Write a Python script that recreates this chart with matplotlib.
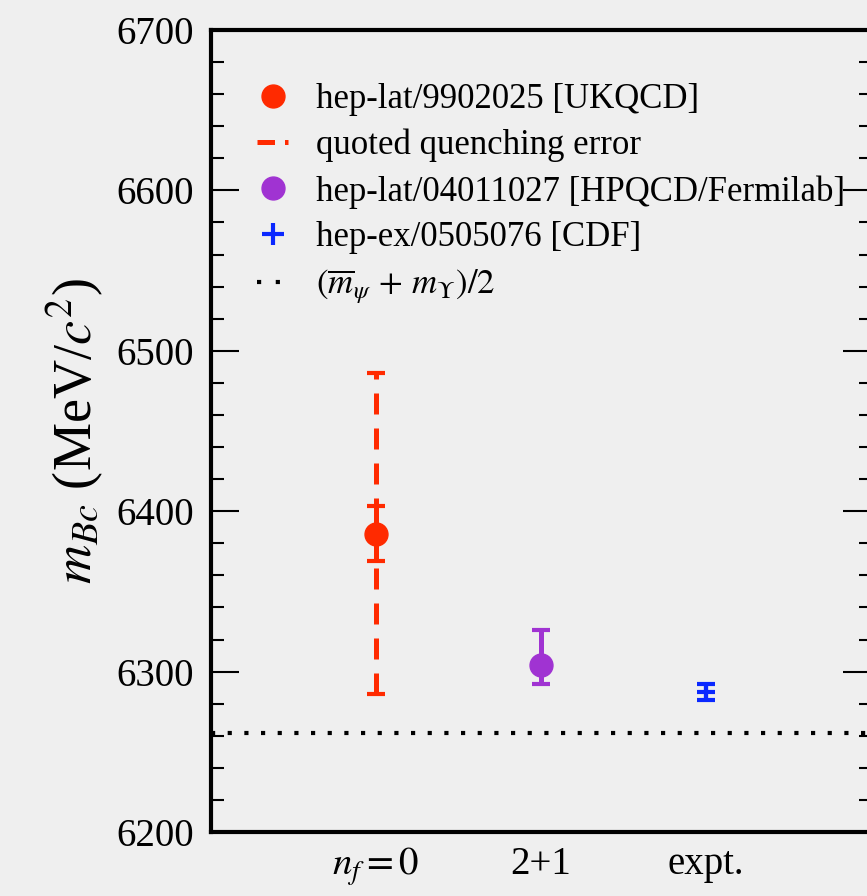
import matplotlib
matplotlib.use('Agg')
import matplotlib.pyplot as plt
from matplotlib.ticker import MultipleLocator
from matplotlib.lines import Line2D

plt.rcParams['font.family'] = ['Liberation Serif', 'DejaVu Serif']
plt.rcParams['mathtext.fontset'] = 'stix'

# data (MeV/c^2)
labels = [r'$n_f = 0$', '2+1', 'expt.']
ukqcd_mass = 6386
ukqcd_err = 17
ukqcd_quench = 100
hpqcd_mass = 6304
hpqcd_err_up = 22
hpqcd_err_down = 12
cdf_mass = 6287
cdf_err = 5
avg_onia = 6262   # (m_psi_bar + m_Upsilon)/2

red = '#ff2a00'
purple = '#a033d2'
blue = '#0a28ff'
bg = '#efefef'

fig = plt.figure(figsize=(8.67, 8.96), dpi=100, facecolor=bg)
# right spine sits just outside the picture, like the original crop
ax = fig.add_axes([211/867, 64/896, 660/867, 802/896])
ax.set_facecolor(bg)

# quoted quenching error (dashed)
eb = ax.errorbar([1], [ukqcd_mass], yerr=[ukqcd_quench], fmt='none', ecolor=red,
                 elinewidth=3.6, capsize=6.8, capthick=3, zorder=2)
eb[2][0].set_linestyle((0, (4.2, 2.8)))

# UKQCD point + stat error
ax.errorbar([1], [ukqcd_mass], yerr=[ukqcd_err], fmt='o', color=red, ms=16.5,
            elinewidth=3.6, capsize=6.8, capthick=3, zorder=3)
# HPQCD/Fermilab
ax.errorbar([2], [hpqcd_mass], yerr=[[hpqcd_err_down], [hpqcd_err_up]], fmt='o',
            color=purple, ms=16.5, elinewidth=3.6, capsize=6.8, capthick=3, zorder=3)
# CDF
ax.errorbar([3], [cdf_mass], yerr=[cdf_err], fmt='+', color=blue, ms=13.5, mew=3,
            elinewidth=3, capsize=6.8, capthick=3, zorder=3)

ax.axhline(avg_onia, color='black', lw=3, ls=(0, (1, 3)), zorder=1)

ax.set_xlim(0, 4)
ax.set_ylim(6200, 6700)
ax.set_xticks([1, 2, 3])
ax.set_xticklabels(labels)
ax.yaxis.set_major_locator(MultipleLocator(100))
ax.yaxis.set_minor_locator(MultipleLocator(20))
ax.tick_params(axis='x', length=0, labelsize=28, pad=10)
ax.tick_params(axis='y', which='both', direction='in', left=True, right=True,
               labelsize=28, pad=12, width=1.5)
ax.tick_params(axis='y', which='major', length=20)
ax.tick_params(axis='y', which='minor', length=9)
for s in ax.spines.values():
    s.set_linewidth(3)

ax.set_ylabel(r'$m_{Bc}$ (MeV/$c^2$)', fontsize=39, labelpad=8)

handles = [
    Line2D([], [], marker='o', color=red, ms=16.5, ls='none'),
    Line2D([], [], color=red, lw=3.6, ls=(0, (3.5, 2.0))),
    Line2D([], [], marker='o', color=purple, ms=16.5, ls='none'),
    Line2D([], [], marker='+', color=blue, ms=16, mew=3, ls='none'),
    Line2D([], [], color='black', lw=3, ls=(0, (1, 3.5))),
]
names = ['hep-lat/9902025 [UKQCD]', 'quoted quenching error',
         'hep-lat/04011027 [HPQCD/Fermilab]', 'hep-ex/0505076 [CDF]',
         r'$(\overline{m}_{\psi}\,+\,m_{\Upsilon})/2$']
ax.legend(handles, names, loc='upper left', bbox_to_anchor=(0.07, 0.934),
          frameon=False, fontsize=25, handlelength=0.9, handletextpad=0.78,
          labelspacing=0.37, borderaxespad=0, borderpad=0)

fig.savefig('out.png', dpi=100, facecolor=bg)
